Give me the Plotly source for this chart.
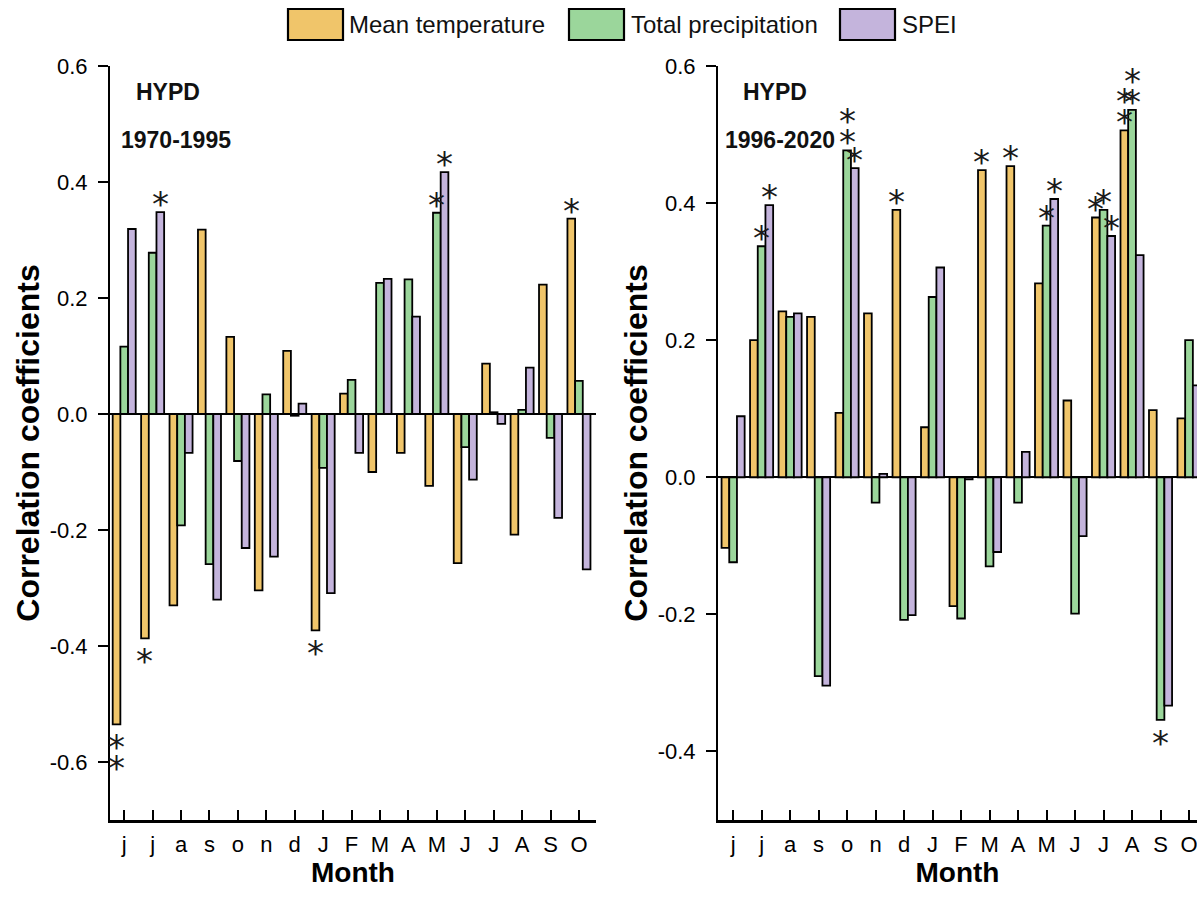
import plotly.graph_objects as go

months = ["j", "j", "a", "s", "o", "n", "d", "J", "F", "M", "A", "M", "J", "J", "A", "S", "O"]
series_names = ["Mean temperature", "Total precipitation", "SPEI"]
series_colors = ["#F0C56A", "#9BD69B", "#C4B4DC"]

# 1970-1995
temp_1970 = [-0.535, -0.387, -0.330, 0.318, 0.133, -0.304, 0.109, -0.373, 0.035, -0.100, -0.067, -0.124, -0.257, 0.087, -0.208, 0.223, 0.337]
prec_1970 = [0.116, 0.278, -0.192, -0.259, -0.081, 0.034, -0.003, -0.093, 0.059, 0.226, 0.232, 0.347, -0.057, 0.003, 0.007, -0.041, 0.057]
spei_1970 = [0.319, 0.348, -0.067, -0.320, -0.231, -0.246, 0.018, -0.309, -0.067, 0.233, 0.168, 0.417, -0.113, -0.017, 0.080, -0.179, -0.268]
# number of significance stars per bar
sig_temp_1970 = [2, 1, 0, 0, 0, 0, 0, 1, 0, 0, 0, 0, 0, 0, 0, 0, 1]
sig_prec_1970 = [0, 0, 0, 0, 0, 0, 0, 0, 0, 0, 0, 1, 0, 0, 0, 0, 0]
sig_spei_1970 = [0, 1, 0, 0, 0, 0, 0, 0, 0, 0, 0, 1, 0, 0, 0, 0, 0]

# 1996-2020
temp_1996 = [-0.103, 0.200, 0.242, 0.234, 0.094, 0.239, 0.390, 0.073, -0.188, 0.448, 0.454, 0.283, 0.112, 0.379, 0.506, 0.098, 0.086]
prec_1996 = [-0.124, 0.337, 0.234, -0.290, 0.477, -0.037, -0.208, 0.263, -0.206, -0.130, -0.037, 0.367, -0.199, 0.390, 0.536, -0.354, 0.200]
spei_1996 = [0.089, 0.397, 0.239, -0.304, 0.451, 0.005, -0.201, 0.306, -0.003, -0.109, 0.037, 0.406, -0.086, 0.352, 0.324, -0.333, 0.134]
sig_temp_1996 = [0, 0, 0, 0, 0, 0, 1, 0, 0, 1, 1, 0, 0, 1, 2, 0, 0]
sig_prec_1996 = [0, 1, 0, 0, 2, 0, 0, 0, 0, 0, 0, 1, 0, 1, 2, 1, 0]
sig_spei_1996 = [0, 1, 0, 0, 1, 0, 0, 0, 0, 0, 0, 1, 0, 1, 0, 0, 0]

yticks_left = [-0.6, -0.4, -0.2, 0.0, 0.2, 0.4, 0.6]
yticks_right = [-0.4, -0.2, 0.0, 0.2, 0.4, 0.6]

panels = [
    dict(values=[temp_1970, prec_1970, spei_1970], sig=[sig_temp_1970, sig_prec_1970, sig_spei_1970],
         station="HYPD", period="1970-1995", xa="x", ya="y"),
    dict(values=[temp_1996, prec_1996, spei_1996], sig=[sig_temp_1996, sig_prec_1996, sig_spei_1996],
         station="HYPD", period="1996-2020", xa="x2", ya="y2"),
]

W, H = 1197, 912
ML, MR, MT, MB = 110, 0, 66, 92
PW, PH = W - ML - MR, H - MT - MB
BARGAP = 0.19
bw = (1 - BARGAP) / 3

TICKFONT = dict(family="Liberation Sans, Arial, sans-serif", size=22, color="black")
TITLEFONT = dict(family="Liberation Sans, Arial, sans-serif", size=32, color="black")
STARFONT = dict(family="DejaVu Sans, sans-serif", size=34, color="#1a1a1a")

fig = go.Figure()
xpos = list(range(len(months)))
annotations = []
for p in panels:
    for k, (vals, name, col) in enumerate(zip(p["values"], series_names, series_colors)):
        fig.add_trace(go.Bar(
            x=xpos, y=vals, name=name, marker=dict(color=col, line=dict(color="black", width=1.8)),
            xaxis=p["xa"], yaxis=p["ya"], showlegend=False, offsetgroup=str(k)))
        for i, (v, n) in enumerate(zip(vals, p["sig"][k])):
            for s in range(n):
                if v >= 0:
                    shift = 16 + 21 * s - 8
                else:
                    shift = -(15 + 21 * s) - 8
                annotations.append(dict(
                    x=i + (k - 1) * bw, y=v, xref=p["xa"], yref=p["ya"], text="*", showarrow=False,
                    xanchor="center", yanchor="middle", yshift=shift, font=STARFONT))
    annotations.append(dict(x=0.12, y=0.965, xref=p["xa"] + " domain", yref=p["ya"] + " domain",
                            text="<b>" + p["station"] + "</b>", showarrow=False, xanchor="center", yanchor="middle",
                            font=dict(family="Liberation Sans, Arial, sans-serif", size=23, color="#111111")))
    annotations.append(dict(x=0.135 if p["xa"] == "x" else 0.13, y=0.902, xref=p["xa"] + " domain", yref=p["ya"] + " domain",
                            text="<b>" + p["period"] + "</b>", showarrow=False, xanchor="center", yanchor="middle",
                            font=dict(family="Liberation Sans, Arial, sans-serif", size=23, color="#111111")))

# custom legend (large boxes)
def px2x(px):
    return (px - ML) / PW

def py2y(py):
    return (H - MB - py) / PH

shapes = []
legend_items = [(288, 350), (569, 632), (840, 903)]
for (bx, tx), name, col in zip(legend_items, series_names, series_colors):
    shapes.append(dict(type="rect", xref="paper", yref="paper", x0=px2x(bx), x1=px2x(bx + 55),
                       y0=py2y(40), y1=py2y(9), fillcolor=col, line=dict(color="black", width=2.2)))
    annotations.append(dict(x=px2x(tx - 3), y=py2y(24.5), xref="paper", yref="paper", text=name, showarrow=False,
                            xanchor="left", yanchor="middle",
                            font=dict(family="Liberation Sans, Arial, sans-serif", size=24, color="#111111")))

xaxis_common = dict(tickmode="array", tickvals=xpos, ticktext=months, ticks="inside", ticklen=10, tickwidth=2,
                    tickcolor="black", showline=True, linecolor="black", linewidth=2.5, showgrid=False,
                    zeroline=False, tickfont=TICKFONT, ticklabelstandoff=3, ticklabeloverflow="allow",
                    title=dict(text="<b>Month</b>", font=dict(family="Liberation Sans, Arial, sans-serif", size=28, color="black"), standoff=6))
yaxis_common = dict(tickmode="array", ticks="outside", ticklen=10, tickwidth=2, tickcolor="black",
                    showline=True, linecolor="black", linewidth=2, showgrid=False, zeroline=True,
                    zerolinecolor="black", zerolinewidth=2, tickfont=TICKFONT, ticklabelstandoff=6,
                    title=dict(text="<b>Correlation coefficients</b>", font=TITLEFONT, standoff=0))

fig.update_layout(
    width=W, height=H, margin=dict(l=ML, r=MR, t=MT, b=MB),
    plot_bgcolor="white", paper_bgcolor="white",
    barmode="group", bargap=BARGAP, bargroupgap=0,
    xaxis=dict(domain=[0, px2x(596)], range=[-0.5, 16.6], anchor="y", **xaxis_common),
    xaxis2=dict(domain=[px2x(718), 1], range=[-0.53, 16.28], anchor="y2", **xaxis_common),
    yaxis=dict(range=[-0.7, 0.6], tickvals=yticks_left, ticktext=[f"{v:.1f}" for v in yticks_left], anchor="x", **yaxis_common),
    yaxis2=dict(range=[-0.5, 0.6], tickvals=yticks_right, ticktext=[f"{v:.1f}" for v in yticks_right], anchor="x2", **yaxis_common),
    annotations=annotations, shapes=shapes,
)

fig.write_html("out.html")
